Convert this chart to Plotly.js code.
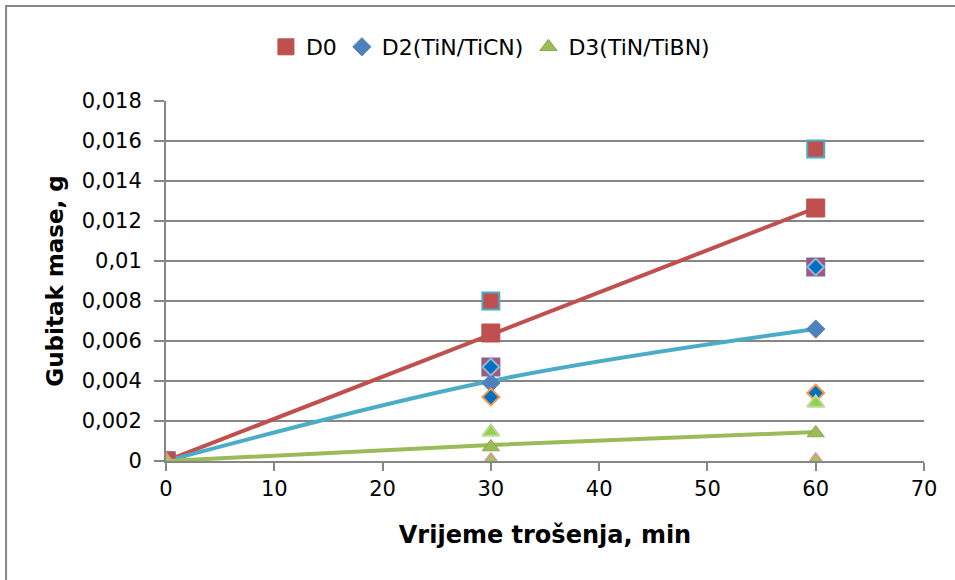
<!DOCTYPE html>
<html>
<head>
<meta charset="utf-8">
<script src="https://cdn.plot.ly/plotly-3.0.1.min.js"></script>
<style>html,body{margin:0;padding:0;background:#fff;}#chart{width:955px;height:580px;}</style>
</head>
<body>
<div id="chart"></div>
<script>
// ---- data ----
const times = [0, 30, 60];
const d0 = [0, 0.0064, 0.01265];
const d0Upper = [0, 0.008, 0.0156];
const d0Lower = [0, 0.0047, 0.0097];
const d2 = [0, 0.0039, 0.0066];
const d2Upper = [0, 0.0047, 0.0097];
const d2Lower = [0, 0.0032, 0.0034];
const d3 = [0, 0.0007, 0.0014];
const d3Upper = [0, 0.00145, 0.0029];
const d3Lower = [0, 0, 0];
const d0TrendX = [0, 60];
const d0TrendY = [0, 0.01265];
const d2LineY = [0, 0.0040, 0.0066];
const d3LineY = [0, 0.0008, 0.00145];
const yTickVals = [0, 0.002, 0.004, 0.006, 0.008, 0.01, 0.012, 0.014, 0.016, 0.018];
const yTickText = ['0', '0,002', '0,004', '0,006', '0,008', '0,01', '0,012', '0,014', '0,016', '0,018'];
const xTickVals = [0, 10, 20, 30, 40, 50, 60, 70];
const seriesNames = ['D0', 'D2(TiN/TiCN)', 'D3(TiN/TiBN)'];

const traces = [
  {x: d0TrendX, y: d0TrendY, mode: 'lines', line: {color: '#C0504D', width: 4}, showlegend: false, hoverinfo: 'skip'},
  {x: times, y: d2LineY, mode: 'lines', line: {color: '#4BACC6', width: 4, shape: 'spline'}, showlegend: false, hoverinfo: 'skip'},
  {x: times, y: d0Upper, mode: 'markers', marker: {symbol: 'square', size: 17, color: '#C0504D', line: {color: '#4BACC6', width: 2}}, showlegend: false},
  {x: times, y: d0Lower, mode: 'markers', marker: {symbol: 'square', size: 17, color: '#C0504D', line: {color: '#8064A2', width: 2}}, showlegend: false},
  {x: times, y: d2, mode: 'markers', name: seriesNames[1], marker: {symbol: 'diamond', size: 14, color: '#4F81BD', line: {color: '#4F81BD', width: 1}}},
  {x: times, y: d2Upper, mode: 'markers', marker: {symbol: 'diamond', size: 13, color: '#0070C0', line: {color: '#95B3D7', width: 2}}, showlegend: false},
  {x: times, y: d2Lower, mode: 'markers', marker: {symbol: 'diamond', size: 13, color: '#0070C0', line: {color: '#F79646', width: 2}}, showlegend: false},
  {x: times, y: d0, mode: 'markers', name: seriesNames[0], marker: {symbol: 'square', size: 18, color: '#C0504D', line: {color: '#B9504D', width: 1}}},
  {x: times, y: d3LineY, mode: 'lines', line: {color: '#9BBB59', width: 4}, showlegend: false, hoverinfo: 'skip'},
  {x: times, y: d3, mode: 'markers', name: seriesNames[2], marker: {symbol: 'triangle-up', size: 15, color: '#9BBB59', line: {color: '#8BA84F', width: 1}}},
  {x: times, y: d3Upper, mode: 'markers', marker: {symbol: 'triangle-up', size: 15, color: '#92D050', line: {color: '#C3D69B', width: 2}}, showlegend: false},
  {x: times, y: d3Lower, mode: 'markers', marker: {symbol: 'triangle-up', size: 15, color: '#92D050', line: {color: '#D99694', width: 2}}, showlegend: false}
];
traces[7].legendrank = 1; traces[4].legendrank = 2; traces[9].legendrank = 3;

const font = 'DejaVu Sans, sans-serif';
const layout = {
  width: 955, height: 580,
  paper_bgcolor: '#ffffff', plot_bgcolor: '#ffffff',
  margin: {l: 166, r: 31, t: 101, b: 119},
  font: {family: font, size: 20, color: '#000000'},
  showlegend: true,
  legend: {orientation: 'h', x: 0.428, xanchor: 'center', y: 1.15, yanchor: 'middle', font: {family: font, size: 22, color: '#000'}, itemwidth: 30, tracegroupgap: 0},
  xaxis: {
    range: [0, 70], tickvals: xTickVals, ticktext: xTickVals.map(String),
    showgrid: false, zeroline: false, showline: true, linecolor: '#868686', linewidth: 2,
    ticks: 'outside', ticklen: 8, tickcolor: '#868686', tickwidth: 2,
    tickfont: {family: font, size: 21, color: '#000'},
    title: {text: '<b>Vrijeme trošenja, min</b>', font: {family: font, size: 24, color: '#000'}, standoff: 26},
    fixedrange: true
  },
  yaxis: {
    range: [0, 0.018], tickvals: yTickVals, ticktext: yTickText,
    showgrid: true, gridcolor: '#868686', gridwidth: 2, zeroline: false,
    showline: true, linecolor: '#868686', linewidth: 2,
    ticks: 'outside', ticklen: 10, tickcolor: '#868686', tickwidth: 2,
    ticklabelstandoff: 8,
    tickfont: {family: font, size: 21, color: '#000'},
    title: {text: '<b>Gubitak mase, g</b>', font: {family: font, size: 23, color: '#000'}, standoff: 12},
    fixedrange: true
  },
  shapes: [
    {type: 'rect', xref: 'paper', yref: 'paper', x0: -0.211, x1: 1.3, y0: -0.5, y1: 1.2639, line: {color: '#868686', width: 2}, fillcolor: 'rgba(0,0,0,0)', layer: 'below'}
  ]
};
Plotly.newPlot('chart', traces, layout, {displayModeBar: false, staticPlot: true});
</script>
</body>
</html>
